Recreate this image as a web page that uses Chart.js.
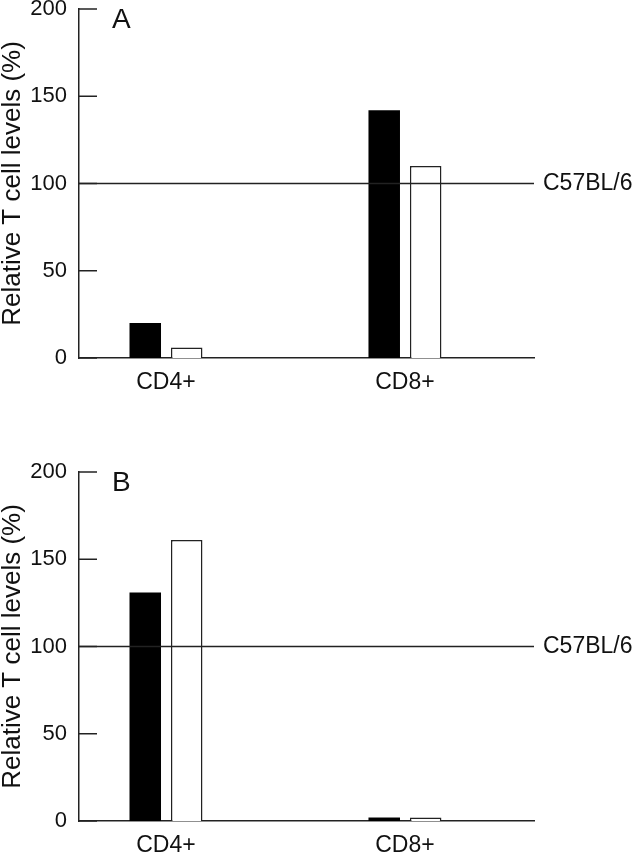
<!DOCTYPE html>
<html>
<head>
<meta charset="utf-8">
<script src="https://cdn.jsdelivr.net/npm/chart.js@4.4.0/dist/chart.umd.min.js"></script>
<style>
  body { margin: 0; background: #fff; }
  .panel { position: relative; width: 634px; }
  #panelA { height: 426px; }
  #panelB { height: 427px; }
</style>
</head>
<body>
<div class="panel" id="panelA"><canvas id="chartA"></canvas></div>
<div class="panel" id="panelB"><canvas id="chartB"></canvas></div>
<script>
// data
const categories = ['CD4+', 'CD8+'];
const yTicks = [0, 50, 100, 150, 200];
const referenceLevel = 100;
const referenceLabel = 'C57BL/6';

const filledA = [20, 142];
const openA = [6, 110];
const filledB = [131, 2];
const openB = [161, 2];

const FONT = 'Liberation Sans, Arial, Helvetica, sans-serif';
const INK = '#222';

// reference line at 100, inward y ticks and panel letter
const panelDecor = {
    id: 'panelDecor',
    afterDatasetsDraw(chart, args, opts) {
        const { ctx, chartArea, scales } = chart;
        const y = scales.y;
        ctx.save();
        ctx.strokeStyle = INK;
        ctx.lineWidth = 1.5;

        // short ticks pointing into the plot
        yTicks.forEach(v => {
            const py = y.getPixelForValue(v);
            ctx.beginPath();
            ctx.moveTo(chartArea.left, py);
            ctx.lineTo(chartArea.left + 18, py);
            ctx.stroke();
        });

        // reference level line + label
        const ry = y.getPixelForValue(referenceLevel);
        ctx.beginPath();
        ctx.moveTo(chartArea.left, ry);
        ctx.lineTo(chartArea.right, ry);
        ctx.stroke();

        ctx.fillStyle = '#111';
        ctx.font = '23px ' + FONT;
        ctx.textBaseline = 'middle';
        ctx.textAlign = 'left';
        ctx.fillText(referenceLabel, chartArea.right + 9, ry);

        ctx.font = '28px ' + FONT;
        ctx.textBaseline = 'alphabetic';
        ctx.fillText(opts.letter, chartArea.left + 33, chartArea.top + 19);
        ctx.restore();
    }
};

function makePanel(canvasId, letter, filled, open, topPad, bottomH) {
    const ctx = document.getElementById(canvasId).getContext('2d');
    return new Chart(ctx, {
        type: 'bar',
        data: {
            datasets: [{
                label: 'filled',
                data: filled.map((v, i) => ({ x: i + 1, y: v })),
                backgroundColor: '#000',
                borderColor: '#000',
                borderWidth: 0
            }, {
                label: 'open',
                data: open.map((v, i) => ({ x: i + 1, y: v })),
                backgroundColor: '#fff',
                borderColor: INK,
                borderWidth: 1.5,
                borderSkipped: 'bottom'
            }]
        },
        options: {
            responsive: true,
            maintainAspectRatio: false,
            animation: false,
            categoryPercentage: 0.347,
            barPercentage: 0.76,
            layout: { padding: { top: topPad, right: 100, left: 0, bottom: 0 } },
            plugins: {
                legend: { display: false },
                tooltip: { enabled: false },
                panelDecor: { letter: letter }
            },
            scales: {
                x: {
                    type: 'linear',
                    min: 0.636,
                    max: 2.54,
                    offset: false,
                    afterBuildTicks: (scale) => {
                        scale.ticks = categories.map((c, i) => ({ value: i + 1 }));
                    },
                    afterFit: (scale) => { scale.height = bottomH; },
                    grid: { display: false, drawTicks: false },
                    border: { display: true, color: INK, width: 1.5 },
                    ticks: {
                        autoSkip: false,
                        maxRotation: 0,
                        padding: 11,
                        color: '#111',
                        font: { family: FONT, size: 23 },
                        callback: (v) => categories[v - 1]
                    }
                },
                y: {
                    min: 0,
                    max: 200,
                    afterBuildTicks: (scale) => {
                        scale.ticks = yTicks.map(v => ({ value: v }));
                    },
                    afterFit: (scale) => {
                        scale.width = 79;
                        scale.paddingTop = 0;
                        scale.paddingBottom = 0;
                    },
                    grid: { display: false, drawTicks: false },
                    border: { display: true, color: INK, width: 1.5 },
                    ticks: {
                        padding: 12,
                        color: '#111',
                        font: { family: FONT, size: 22 }
                    },
                    title: {
                        display: true,
                        text: 'Relative T cell levels (%)',
                        color: '#111',
                        font: { family: FONT, size: 26, lineHeight: 1 },
                        padding: { top: 0, bottom: 0 }
                    }
                }
            }
        },
        plugins: [panelDecor]
    });
}

makePanel('chartA', 'A', filledA, openA, 9, 68);
makePanel('chartB', 'B', filledB, openB, 46, 32);
</script>
</body>
</html>
